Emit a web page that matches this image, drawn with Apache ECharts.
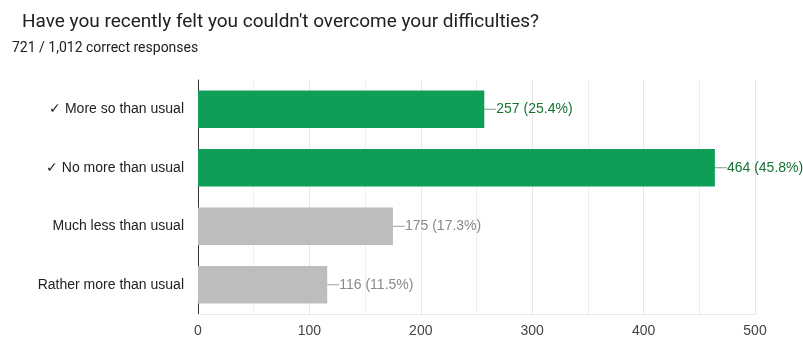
<!DOCTYPE html>
<html>
<head>
<meta charset="utf-8">
<script src="https://cdn.jsdelivr.net/npm/echarts@6/dist/echarts.min.js"></script>
<style>
  html, body { margin: 0; padding: 0; background: #fff; }
  #chart { width: 803px; height: 338px; }
</style>
</head>
<body>
<div id="chart"></div>
<script>
// Answer options, top to bottom
const categories = ['✓ More so than usual', '✓ No more than usual', 'Much less than usual', 'Rather more than usual'];
const counts = [257, 464, 175, 116];
const percents = ['25.4%', '45.8%', '17.3%', '11.5%'];
const isCorrect = [true, true, false, false];
const xTicks = [0, 100, 200, 300, 400, 500];

const GREEN = '#0f9d58';
const GREEN_TEXT = '#137333';
const GREY = '#bdbdbd';
const GREY_TEXT = '#8a8a8a';
const LABEL_FONT = '"Liberation Sans", Arial, sans-serif';

const chart = echarts.init(document.getElementById('chart'), null, { renderer: 'canvas' });

const barData = counts.map((v, i) => ({
  value: v,
  itemStyle: { color: isCorrect[i] ? GREEN : GREY },
  label: { color: isCorrect[i] ? GREEN_TEXT : GREY_TEXT },
  labelLine: { lineStyle: { color: isCorrect[i] ? '#7a9e88' : '#a0a0a0' } }
}));

chart.setOption({
  animation: false,
  title: [
    {
      text: "Have you recently felt you couldn't overcome your difficulties?",
      left: 17, top: 8,
      textStyle: { fontFamily: 'Roboto', fontSize: 19, fontWeight: 'normal', color: '#202124' }
    },
    {
      text: '721 / 1,012 correct responses',
      left: 7, top: 36,
      textStyle: { fontFamily: 'Roboto', fontSize: 14, fontWeight: 'normal', color: '#202124' }
    }
  ],
  grid: { left: 198, right: 48, top: 80, bottom: 22, containLabel: false },
  xAxis: {
    type: 'value',
    min: 0, max: 500, interval: 100,
    axisLine: { show: true, lineStyle: { color: '#e6e6e6' } },
    axisTick: { show: false },
    axisLabel: {
      fontFamily: LABEL_FONT, fontSize: 14, color: '#444', margin: 10,
      formatter: v => xTicks.includes(v) ? String(v) : ''
    },
    splitLine: { show: true, lineStyle: { color: '#e6e6e6' } },
    minorTick: { show: false, splitNumber: 2 },
    minorSplitLine: { show: true, lineStyle: { color: '#eeeeee' } }
  },
  yAxis: {
    type: 'category',
    inverse: true,
    data: categories,
    axisLine: { show: true, lineStyle: { color: '#333', width: 1 } },
    axisTick: { show: false },
    axisLabel: { fontFamily: LABEL_FONT, fontSize: 14, color: '#222', margin: 14 }
  },
  series: [{
    type: 'bar',
    data: barData,
    barWidth: '64%',
    label: {
      show: true,
      position: 'right',
      distance: 0,
      fontFamily: LABEL_FONT,
      fontSize: 14,
      formatter: p => counts[p.dataIndex] + ' (' + percents[p.dataIndex] + ')'
    },
    labelLayout: { dx: 12 },
    labelLine: { show: true, length2: 0, lineStyle: { width: 1 } }
  }]
});
</script>
</body>
</html>
